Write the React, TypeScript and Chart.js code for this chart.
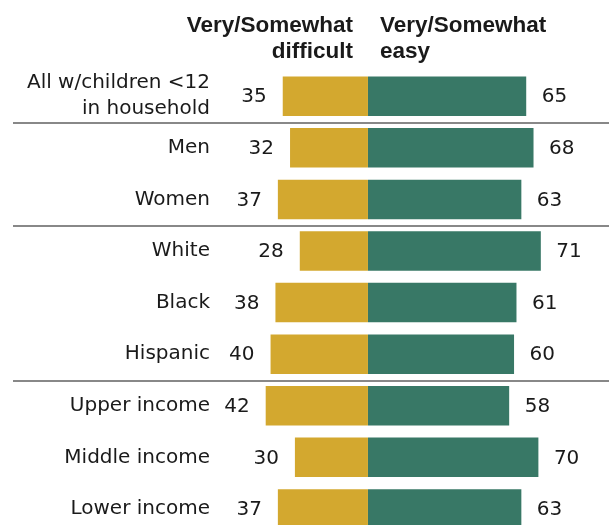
import React, { useEffect, useRef } from "react";
import { Chart, registerables } from "chart.js";

Chart.register(...registerables);

const categories: (string | string[])[] = [
  ["All w/children <12", "in household"],
  "Men",
  "Women",
  "White",
  "Black",
  "Hispanic",
  "Upper income",
  "Middle income",
  "Lower income",
];
const difficult = [35, 32, 37, 28, 38, 40, 42, 30, 37];
const easy = [65, 68, 63, 71, 61, 60, 58, 70, 63];
const headerDifficult = ["Very/Somewhat", "difficult"];
const headerEasy = ["Very/Somewhat", "easy"];
const separatorsAfter = [0, 2, 5];

const GOLD = "#D3A82F";
const GREEN = "#387866";
const TEXT = "#1a1a1a";
const FONT = "'DejaVu Sans', sans-serif";
const HEAD_FONT = "'Liberation Sans', Arial, sans-serif";

export default function App() {
  const ref = useRef<HTMLCanvasElement>(null);

  useEffect(() => {
    document.body.style.margin = "0";
    const canvas = ref.current;
    if (!canvas) return;

    const overlay = {
      id: "overlay",
      afterDatasetsDraw(chart: any) {
        const { ctx } = chart;
        const xs = chart.scales.x;
        const ys = chart.scales.y;
        const zero = xs.getPixelForValue(0);
        ctx.save();

        // separators
        ctx.strokeStyle = "#888888";
        ctx.lineWidth = 2;
        separatorsAfter.forEach((i) => {
          const yy = Math.round((ys.getPixelForValue(i) + ys.getPixelForValue(i + 1)) / 2) + 1;
          ctx.beginPath();
          ctx.moveTo(13, yy);
          ctx.lineTo(chart.width, yy);
          ctx.stroke();
        });

        // value labels
        ctx.font = `20px ${FONT}`;
        ctx.fillStyle = TEXT;
        ctx.textBaseline = "middle";
        categories.forEach((_, i) => {
          const yy = ys.getPixelForValue(i);
          ctx.textAlign = "right";
          ctx.fillText(String(difficult[i]), xs.getPixelForValue(-difficult[i]) - 16, yy + 1);
          ctx.textAlign = "left";
          ctx.fillText(String(easy[i]), xs.getPixelForValue(easy[i]) + 15.5, yy + 1);
        });

        // headers
        ctx.font = `bold 22.5px ${HEAD_FONT}`;
        ctx.textBaseline = "alphabetic";
        ctx.textAlign = "right";
        headerDifficult.forEach((t, k) => ctx.fillText(t, zero - 15, 32 + k * 26));
        ctx.textAlign = "left";
        headerEasy.forEach((t, k) => ctx.fillText(t, zero + 12, 32 + k * 26));

        ctx.restore();
      },
    };

    const chart = new Chart(canvas, {
      type: "bar",
      data: {
        labels: categories as any,
        datasets: [
          {
            label: "Very/Somewhat difficult",
            data: difficult.map((v) => -v),
            backgroundColor: GOLD,
            borderWidth: 0,
          },
          {
            label: "Very/Somewhat easy",
            data: easy,
            backgroundColor: GREEN,
            borderWidth: 0,
          },
        ],
      },
      options: {
        indexAxis: "y",
        animation: false,
        responsive: false,
        maintainAspectRatio: false,
        events: [],
        layout: { padding: { top: 70.5, bottom: 10.3, left: 0, right: 0 } },
        datasets: { bar: { categoryPercentage: 1, barPercentage: 0.766 } },
        plugins: {
          legend: { display: false },
          tooltip: { enabled: false },
          title: { display: false },
        },
        scales: {
          x: {
            display: false,
            stacked: true,
            min: -62,
            max: 99,
          },
          y: {
            stacked: true,
            grid: { display: false, drawTicks: false },
            border: { display: false },
            afterFit: (scale: any) => {
              scale.width = 217;
              scale.paddingTop = 0;
              scale.paddingBottom = 0;
            },
            ticks: {
              color: TEXT,
              padding: 7,
              autoSkip: false,
              font: { family: FONT, size: 20, lineHeight: 1.3 },
            },
          },
        },
      },
      plugins: [overlay],
    });

    return () => chart.destroy();
  }, []);

  return (
    <div style={{ width: 609, height: 545 }}>
      <canvas ref={ref} width={609} height={545} style={{ display: "block" }} />
    </div>
  );
}
